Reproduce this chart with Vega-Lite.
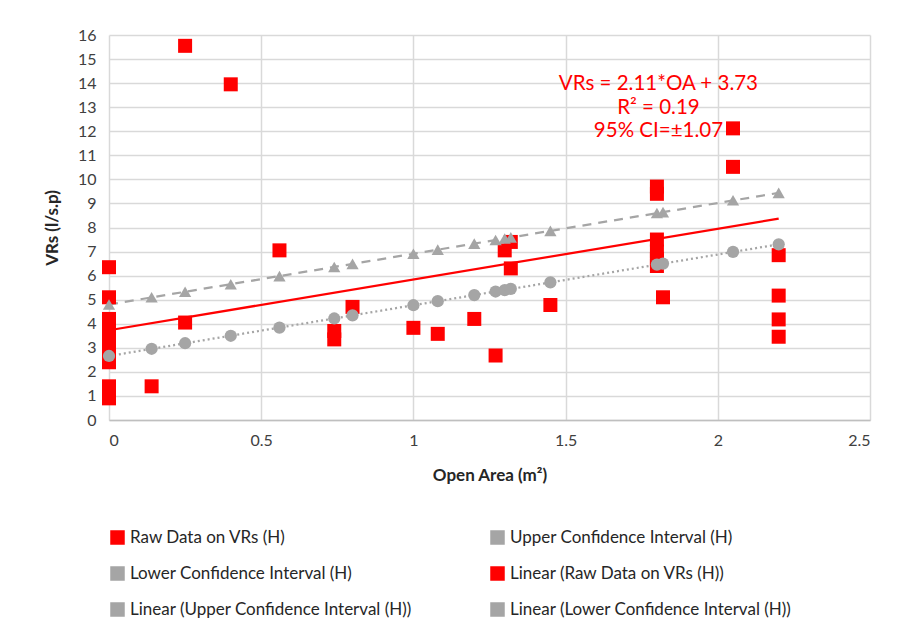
{
  "$schema": "https://vega.github.io/schema/vega-lite/v6.json",
  "width": 761,
  "height": 385,
  "autosize": "none",
  "padding": {"left": 109, "top": 35, "right": 27, "bottom": 222},
  "background": "white",
  "config": {
    "font": "Lato",
    "view": {"stroke": null},
    "axis": {
      "labelFont": "Lato",
      "labelFontSize": 16,
      "labelColor": "#404040",
      "titleFont": "Lato",
      "titleFontSize": 17,
      "titleFontWeight": "bold",
      "titleColor": "#262626",
      "gridColor": "#d9d9d9",
      "gridWidth": 1.5,
      "ticks": false
    }
  },
  "datasets": {
    "raw": [
      {"oa": 0, "vrs": 6.35}, {"oa": 0, "vrs": 5.1}, {"oa": 0, "vrs": 4.2}, {"oa": 0, "vrs": 3.9},
      {"oa": 0, "vrs": 3.6}, {"oa": 0, "vrs": 3.3}, {"oa": 0, "vrs": 3.0}, {"oa": 0, "vrs": 2.7},
      {"oa": 0, "vrs": 2.4}, {"oa": 0, "vrs": 1.4}, {"oa": 0, "vrs": 1.1}, {"oa": 0, "vrs": 0.9},
      {"oa": 0.14, "vrs": 1.4},
      {"oa": 0.25, "vrs": 15.55}, {"oa": 0.25, "vrs": 4.05},
      {"oa": 0.4, "vrs": 13.95},
      {"oa": 0.56, "vrs": 7.05},
      {"oa": 0.74, "vrs": 3.7}, {"oa": 0.74, "vrs": 3.35},
      {"oa": 0.8, "vrs": 4.7},
      {"oa": 1.0, "vrs": 3.83},
      {"oa": 1.08, "vrs": 3.58},
      {"oa": 1.2, "vrs": 4.2},
      {"oa": 1.27, "vrs": 2.68},
      {"oa": 1.3, "vrs": 7.05},
      {"oa": 1.32, "vrs": 7.4}, {"oa": 1.32, "vrs": 6.3},
      {"oa": 1.45, "vrs": 4.78},
      {"oa": 1.8, "vrs": 9.7}, {"oa": 1.8, "vrs": 9.4}, {"oa": 1.8, "vrs": 7.5}, {"oa": 1.8, "vrs": 7.0},
      {"oa": 1.8, "vrs": 6.7}, {"oa": 1.8, "vrs": 6.4},
      {"oa": 1.82, "vrs": 5.1},
      {"oa": 2.05, "vrs": 12.12}, {"oa": 2.05, "vrs": 10.52},
      {"oa": 2.2, "vrs": 6.85}, {"oa": 2.2, "vrs": 5.17}, {"oa": 2.2, "vrs": 4.18}, {"oa": 2.2, "vrs": 3.46}
    ],
    "upper": [
      {"oa": 0, "vrs": 4.8}, {"oa": 0.14, "vrs": 5.1}, {"oa": 0.25, "vrs": 5.33}, {"oa": 0.4, "vrs": 5.64},
      {"oa": 0.56, "vrs": 5.98}, {"oa": 0.74, "vrs": 6.36}, {"oa": 0.8, "vrs": 6.49}, {"oa": 1.0, "vrs": 6.91},
      {"oa": 1.08, "vrs": 7.08}, {"oa": 1.2, "vrs": 7.33}, {"oa": 1.27, "vrs": 7.48}, {"oa": 1.3, "vrs": 7.54},
      {"oa": 1.32, "vrs": 7.59}, {"oa": 1.45, "vrs": 7.86}, {"oa": 1.8, "vrs": 8.6}, {"oa": 1.82, "vrs": 8.64},
      {"oa": 2.05, "vrs": 9.13}, {"oa": 2.2, "vrs": 9.44}
    ],
    "lower": [
      {"oa": 0, "vrs": 2.66}, {"oa": 0.14, "vrs": 2.96}, {"oa": 0.25, "vrs": 3.19}, {"oa": 0.4, "vrs": 3.5},
      {"oa": 0.56, "vrs": 3.84}, {"oa": 0.74, "vrs": 4.22}, {"oa": 0.8, "vrs": 4.35}, {"oa": 1.0, "vrs": 4.77},
      {"oa": 1.08, "vrs": 4.94}, {"oa": 1.2, "vrs": 5.19}, {"oa": 1.27, "vrs": 5.34}, {"oa": 1.3, "vrs": 5.4},
      {"oa": 1.32, "vrs": 5.45}, {"oa": 1.45, "vrs": 5.72}, {"oa": 1.8, "vrs": 6.46}, {"oa": 1.82, "vrs": 6.5},
      {"oa": 2.05, "vrs": 6.99}, {"oa": 2.2, "vrs": 7.3}
    ],
    "trendRaw": [{"oa": 0, "vrs": 3.73}, {"oa": 2.2, "vrs": 8.37}],
    "trendUpper": [{"oa": 0, "vrs": 4.8}, {"oa": 2.2, "vrs": 9.44}],
    "trendLower": [{"oa": 0, "vrs": 2.66}, {"oa": 2.2, "vrs": 7.3}],
    "note": [
      {"oa": 1.805, "vrs": 13.95, "label": "VRs = 2.11*OA + 3.73"},
      {"oa": 1.805, "vrs": 12.97, "label": "R² = 0.19"},
      {"oa": 1.805, "vrs": 12.0, "label": "95% CI=±1.07"}
    ]
  },
  "encoding": {
    "x": {
      "field": "oa", "type": "quantitative",
      "scale": {"domain": [0, 2.5], "nice": false, "zero": false},
      "axis": {
        "title": "Open Area (m²)",
        "values": [0, 0.5, 1, 1.5, 2, 2.5],
        "format": "~g",
        "labelPadding": 12,
        "titlePadding": 19,
        "domainColor": "#bfbfbf",
        "domainWidth": 1.5
      }
    },
    "y": {
      "field": "vrs", "type": "quantitative",
      "scale": {"domain": [0, 16], "nice": false},
      "axis": {
        "title": "VRs (l/s.p)",
        "values": [0, 1, 2, 3, 4, 5, 6, 7, 8, 9, 10, 11, 12, 13, 14, 15, 16],
        "labelPadding": 13,
        "titlePadding": 16,
        "domain": false
      }
    }
  },
  "layer": [
    {
      "data": {"name": "trendRaw"},
      "mark": {"type": "line", "strokeWidth": 2.25},
      "encoding": {
        "color": {
          "datum": "Linear (Raw Data on VRs (H))",
          "scale": {
            "domain": [
              "Raw Data on VRs (H)",
              "Upper Confidence Interval (H)",
              "Lower Confidence Interval (H)",
              "Linear (Raw Data on VRs (H))",
              "Linear (Upper Confidence Interval (H))",
              "Linear (Lower Confidence Interval (H))"
            ],
            "range": ["#ff0000", "#a5a5a5", "#a5a5a5", "#ff0000", "#a5a5a5", "#a5a5a5"]
          },
          "legend": {
            "title": null,
            "orient": "bottom",
            "offset": 46,
            "columns": 2,
            "symbolType": "square",
            "symbolSize": 169,
            "rowPadding": 17,
            "columnPadding": 75,
            "labelFont": "Lato",
            "labelFontSize": 17,
            "labelColor": "#262626",
            "labelLimit": 400
          }
        }
      }
    },
    {
      "data": {"name": "trendUpper"},
      "mark": {"type": "line", "strokeWidth": 2.25, "strokeDash": [9, 7]},
      "encoding": {"color": {"datum": "Linear (Upper Confidence Interval (H))"}}
    },
    {
      "data": {"name": "trendLower"},
      "mark": {"type": "line", "strokeWidth": 2.25, "strokeDash": [2, 3]},
      "encoding": {"color": {"datum": "Linear (Lower Confidence Interval (H))"}}
    },
    {
      "data": {"name": "raw"},
      "mark": {"type": "point", "shape": "square", "filled": true, "size": 196, "opacity": 1},
      "encoding": {"color": {"datum": "Raw Data on VRs (H)"}}
    },
    {
      "data": {"name": "upper"},
      "mark": {"type": "point", "shape": "triangle-up", "filled": true, "size": 150, "opacity": 1},
      "encoding": {"color": {"datum": "Upper Confidence Interval (H)"}}
    },
    {
      "data": {"name": "lower"},
      "mark": {"type": "point", "shape": "circle", "filled": true, "size": 150, "opacity": 1},
      "encoding": {"color": {"datum": "Lower Confidence Interval (H)"}}
    },
    {
      "data": {"name": "note"},
      "mark": {"type": "text", "fontSize": 20.5, "color": "#ff0000", "align": "center", "baseline": "middle", "font": "Lato"},
      "encoding": {"text": {"field": "label"}}
    }
  ]
}
